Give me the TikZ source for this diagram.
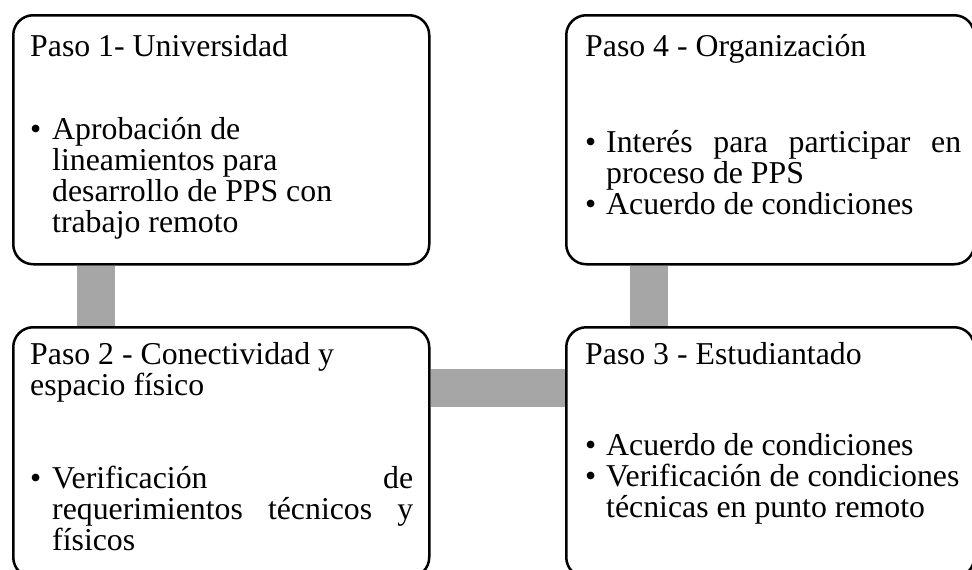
\documentclass[tikz,border=0pt]{standalone}
\usepackage{fontspec}
\setmainfont{Liberation Serif}
\usepackage{array}
\usetikzlibrary{backgrounds}
\definecolor{linkgray}{HTML}{A6A6A6}

\begin{document}
\begin{tikzpicture}[x=1pt,y=-1pt,
    paso/.style={draw,line width=2.5pt,rounded corners=20pt,fill=white,anchor=north west,inner sep=0pt,minimum width=416pt,minimum height=249pt},
    txt/.style={anchor=base west,inner sep=0pt,font=\fontsize{31.8pt}{31pt}\selectfont},
    link/.style={linkgray,line width=38pt}]
    \useasboundingbox (0,0) rectangle (972,570);
    % cajas
    \node[paso] (b1) at (12,14) {};
    \node[paso,minimum width=408pt] (b4) at (565,14) {};
    \node[paso,minimum height=250pt] (b2) at (12,326) {};
    \node[paso,minimum width=408pt,minimum height=250pt] (b3) at (565,326) {};
    % barras
    \begin{scope}[on background layer]
        \draw[link] ([xshift=84pt]b1.south west)--([xshift=84pt]b2.north west);
        \draw[link] ([xshift=84pt]b4.south west)--([xshift=84pt]b3.north west);
        \draw[link] ([yshift=-62pt]b2.north east)--([yshift=-62pt]b3.north west);
    \end{scope}
    % textos
    \node[txt] (t1) at ([shift={(18,42)}]b1.north west) {Paso 1- Universidad};
    \node[txt] (l1) at ([shift={(18,125)}]b1.north west) {\begin{tabular}[t]{@{}p{22pt}@{}p{361pt}@{}}
        • & Aprobación de\newline lineamientos para\newline desarrollo de PPS con\newline trabajo remoto
    \end{tabular}};
    \node[txt] (t4) at ([shift={(20,42)}]b4.north west) {Paso 4 - Organización};
    \node[txt] (l4) at ([shift={(20,138)}]b4.north west) {\begin{tabular}[t]{@{}p{21pt}@{}p{355pt}@{}}
        • & Interés\hfill para\hfill participar\hfill en\newline proceso de PPS\\
        • & Acuerdo de condiciones
    \end{tabular}};
    \node[txt] (t2) at ([shift={(18,38)}]b2.north west) {\begin{tabular}[t]{@{}l@{}}
        Paso 2 - Conectividad y\\ espacio físico
    \end{tabular}};
    \node[txt] (l2) at ([shift={(18,162)}]b2.north west) {\begin{tabular}[t]{@{}p{22pt}@{}p{361pt}@{}}
        • & Verificación\hfill de\newline requerimientos\hfill técnicos\hfill y\newline físicos
    \end{tabular}};
    \node[txt] (t3) at ([shift={(20,38)}]b3.north west) {Paso 3 - Estudiantado};
    \node[txt] (l3) at ([shift={(20,129)}]b3.north west) {\begin{tabular}[t]{@{}p{21pt}@{}p{360pt}@{}}
        • & Acuerdo de condiciones\\
        • & Verificación de condiciones\newline técnicas en punto remoto
    \end{tabular}};
\end{tikzpicture}
\end{document}
